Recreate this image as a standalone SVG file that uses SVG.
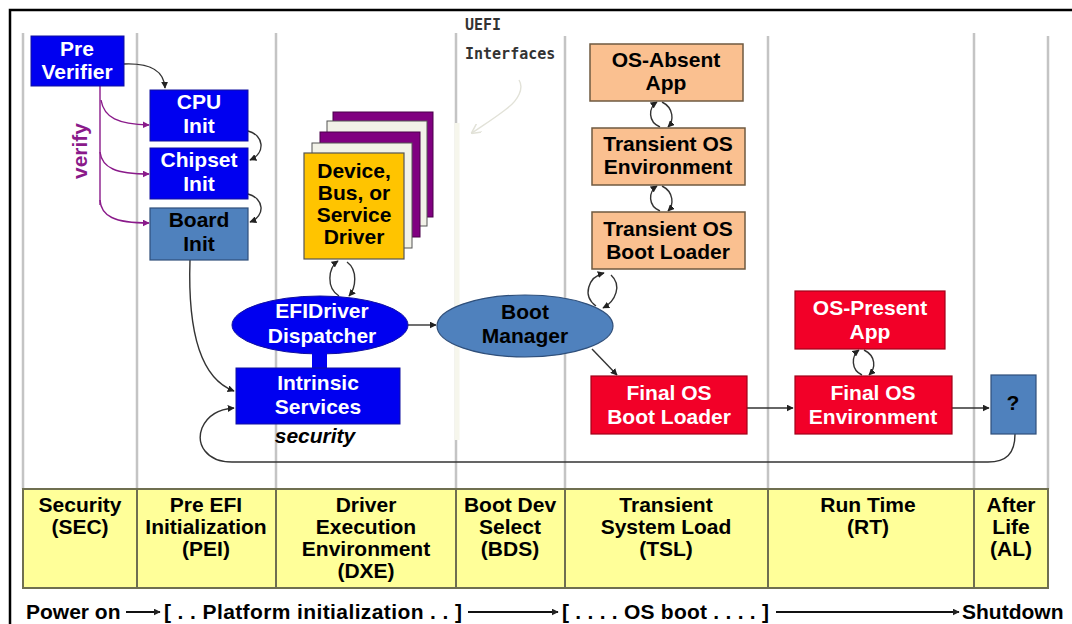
<svg xmlns="http://www.w3.org/2000/svg" width="1072" height="624" viewBox="0 0 1072 624">
<defs>
<style>
.t{font-family:"Liberation Sans",Arial,sans-serif;font-weight:bold;font-size:21px;text-anchor:middle}
.w{fill:#ffffff}
.k{fill:#000000}
.blue{fill:#0000f0;stroke:#1010a0;stroke-width:1}
.steel{fill:#4f81bd;stroke:#2f4f7a;stroke-width:1.2}
.peach{fill:#fac090;stroke:#6f5a40;stroke-width:1.5}
.red{fill:#f20028;stroke:#a00018;stroke-width:1.2}
.lane{stroke:#c4c4c4;stroke-width:2.5}
.div{stroke:#6f6f50;stroke-width:2}
.c{fill:none;stroke:#333;stroke-width:1.4}
.p{fill:none;stroke:#8a1a8a;stroke-width:1.4}
.u{font-family:"Comic Sans MS","DejaVu Sans Mono",monospace;font-size:15px;font-weight:bold;fill:#333}
</style>
<marker id="ah" viewBox="0 0 10 10" refX="9" refY="5" markerWidth="7" markerHeight="7" orient="auto-start-reverse" markerUnits="userSpaceOnUse"><path d="M0,0 L10,5 L0,10 z" fill="#222"/></marker>
<marker id="ap" viewBox="0 0 10 10" refX="9" refY="5" markerWidth="7" markerHeight="7" orient="auto" markerUnits="userSpaceOnUse"><path d="M0,0 L10,5 L0,10 z" fill="#8a1a8a"/></marker>
<marker id="ag" viewBox="0 0 10 10" refX="9" refY="5" markerWidth="10" markerHeight="10" orient="auto" markerUnits="userSpaceOnUse"><path d="M0,0 L10,5 L0,10" fill="none" stroke="#e2e2d8" stroke-width="1.5"/></marker>
</defs>
<rect width="1072" height="624" fill="#ffffff"/>
<!-- frame -->
<path d="M10,624 V10 H1072" fill="none" stroke="#000" stroke-width="2.5"/>
<!-- lanes -->
<g id="lanes">
<line class="lane" x1="23" y1="33" x2="23" y2="489"/>
<line class="lane" x1="137" y1="33" x2="137" y2="489"/>
<line class="lane" x1="276" y1="33" x2="276" y2="489"/>
<line class="lane" x1="456" y1="33" x2="456" y2="489"/>
<line x1="457" y1="123" x2="457" y2="440" stroke="#f6f6ec" stroke-width="5"/>
<line class="lane" x1="565" y1="36" x2="565" y2="489"/>
<line class="lane" x1="768" y1="36" x2="768" y2="489"/>
<line class="lane" x1="974" y1="33" x2="974" y2="489"/>
<line class="lane" x1="1048" y1="36" x2="1048" y2="489"/>
</g>
<!-- phase band -->
<g id="phases">
<rect x="23" y="489" width="1025" height="99" fill="#ffff99" stroke="#6f6f50" stroke-width="2"/>
<line class="div" x1="137" y1="489" x2="137" y2="588"/>
<line class="div" x1="276" y1="489" x2="276" y2="588"/>
<line class="div" x1="456" y1="489" x2="456" y2="588"/>
<line class="div" x1="565" y1="489" x2="565" y2="588"/>
<line class="div" x1="768" y1="489" x2="768" y2="588"/>
<line class="div" x1="974" y1="489" x2="974" y2="588"/>
<text class="t k" x="80" y="512">Security<tspan x="80" dy="22">(SEC)</tspan></text>
<text class="t k" x="206" y="512">Pre EFI<tspan x="206" dy="22">Initialization</tspan><tspan x="206" dy="22">(PEI)</tspan></text>
<text class="t k" x="366" y="512">Driver<tspan x="366" dy="22">Execution</tspan><tspan x="366" dy="22">Environment</tspan><tspan x="366" dy="22">(DXE)</tspan></text>
<text class="t k" x="510" y="512">Boot Dev<tspan x="510" dy="22">Select</tspan><tspan x="510" dy="22">(BDS)</tspan></text>
<text class="t k" x="666" y="512">Transient<tspan x="666" dy="22">System Load</tspan><tspan x="666" dy="22">(TSL)</tspan></text>
<text class="t k" x="868" y="512">Run Time<tspan x="868" dy="22">(RT)</tspan></text>
<text class="t k" x="1011" y="512">After<tspan x="1011" dy="22">Life</tspan><tspan x="1011" dy="22">(AL)</tspan></text>
</g>
<!-- bottom timeline -->
<g id="timeline">
<text class="t k" x="26" y="619" style="text-anchor:start">Power on</text>
<text class="t k" x="164" y="619" style="text-anchor:start" textLength="298" lengthAdjust="spacing">[ . . Platform initialization . . ]</text>
<text class="t k" x="562" y="619" style="text-anchor:start" textLength="207" lengthAdjust="spacing">[ . . . . OS boot . . . . ]</text>
<text class="t k" x="962" y="619" style="text-anchor:start">Shutdown</text>
<line x1="126" y1="612" x2="160" y2="612" stroke="#111" stroke-width="2" marker-end="url(#ah)"/>
<line x1="468" y1="612" x2="558" y2="612" stroke="#111" stroke-width="2" marker-end="url(#ah)"/>
<line x1="776" y1="612" x2="959" y2="612" stroke="#111" stroke-width="2" marker-end="url(#ah)"/>
</g>
<!-- UEFI label -->
<g id="uefi">
<text class="u" x="465" y="30">UEFI</text>
<text class="u" x="465" y="59">Interfaces</text>
</g>
<!-- connectors -->
<g id="connectors">
<path d="M 519 80 C 524 88, 519 100, 505 110 C 492 120, 482 126, 472 133" fill="none" stroke="#e2e2d8" stroke-width="1.4" marker-end="url(#ag)"/>
<path class="c" d="M 124 64 C 150 63, 164 70, 165 88" marker-end="url(#ah)"/>
<path class="c" d="M 248 131 C 264 135, 266 153, 250 160" marker-end="url(#ah)"/>
<path class="c" d="M 248 194 C 264 198, 266 216, 250 222" marker-end="url(#ah)"/>
<path class="p" d="M 100 86 V 205"/>
<path class="p" d="M 101 100 C 104 118, 118 124, 149 125" marker-end="url(#ap)"/>
<path class="p" d="M 100 152 C 102 168, 116 174, 149 174" marker-end="url(#ap)"/>
<path class="p" d="M 100 200 C 101 216, 114 223, 149 223" marker-end="url(#ap)"/>
<path class="c" d="M 190 260 C 188 320, 196 377, 234 391" marker-end="url(#ah)"/>
<path class="c" d="M 339 296 C 326 288, 328 268, 338 261" marker-end="url(#ah)"/>
<path class="c" d="M 347 262 C 358 270, 356 288, 349 296" marker-end="url(#ah)"/>
<line class="c" x1="408" y1="325" x2="436" y2="325" marker-end="url(#ah)"/>
<path class="c" d="M 596 306 C 582 296, 588 277, 604 273" marker-end="url(#ah)"/>
<path class="c" d="M 611 275 C 622 285, 616 301, 603 308" marker-end="url(#ah)"/>
<line class="c" x1="592" y1="349" x2="617" y2="375" marker-end="url(#ah)"/>
<path class="c" d="M 660 127 C 648 122, 648 108, 657 102" marker-end="url(#ah)"/>
<path class="c" d="M 662 102 C 674 108, 674 121, 668 127" marker-end="url(#ah)"/>
<path class="c" d="M 660 211 C 648 206, 648 192, 657 186" marker-end="url(#ah)"/>
<path class="c" d="M 662 186 C 674 192, 674 205, 668 211" marker-end="url(#ah)"/>
<path class="c" d="M 862 375 C 851 370, 851 356, 859 350" marker-end="url(#ah)"/>
<path class="c" d="M 864 350 C 876 356, 876 368, 869 375" marker-end="url(#ah)"/>
<line class="c" x1="747" y1="408" x2="793" y2="408" marker-end="url(#ah)"/>
<line class="c" x1="952" y1="408" x2="989" y2="408" marker-end="url(#ah)"/>
<path class="c" d="M 1015 434 C 1015 454, 1006 462, 988 462 H 232 C 206 462, 196 444, 202 428 C 208 414, 220 409, 234 408" marker-end="url(#ah)"/>
</g>
<!-- SEC / PEI nodes -->
<g id="pre-verifier">
<rect class="blue" x="31" y="36" width="93" height="50"/>
<text class="t w" x="77" y="56">Pre<tspan x="77" dy="23">Verifier</tspan></text>
</g>
<g id="verify-label">
<text class="t" x="0" y="0" fill="#8a1a8a" font-size="20" transform="translate(87,151) rotate(-90)">verify</text>
</g>
<g id="cpu-init">
<rect class="blue" x="150" y="90" width="98" height="51"/>
<text class="t w" x="199" y="109">CPU<tspan x="199" dy="24">Init</tspan></text>
</g>
<g id="chipset-init">
<rect class="blue" x="150" y="148" width="98" height="51"/>
<text class="t w" x="199" y="167">Chipset<tspan x="199" dy="24">Init</tspan></text>
</g>
<g id="board-init">
<rect class="steel" x="150" y="208" width="98" height="52"/>
<text class="t k" x="199" y="227">Board<tspan x="199" dy="24">Init</tspan></text>
</g>
<!-- DXE -->
<g id="driver">
<rect x="333" y="112" width="100" height="105" fill="#800080" stroke="#4a004a" stroke-width="1"/>
<rect x="327" y="121" width="100" height="105" fill="#f2f2e8" stroke="#555" stroke-width="1"/>
<rect x="320" y="132" width="100" height="105" fill="#800080" stroke="#4a004a" stroke-width="1"/>
<rect x="312" y="143" width="100" height="105" fill="#f2f2e8" stroke="#555" stroke-width="1"/>
<rect x="304" y="153" width="100" height="106" fill="#ffc400" stroke="#555" stroke-width="1.2"/>
<text class="t k" x="354" y="178">Device,<tspan x="354" dy="22">Bus, or</tspan><tspan x="354" dy="22">Service</tspan><tspan x="354" dy="22">Driver</tspan></text>
</g>
<g id="dispatcher">
<ellipse cx="320" cy="325" rx="88" ry="29" fill="#0000f0" stroke="#1010a0" stroke-width="1"/>
<text class="t w" x="322" y="318">EFIDriver<tspan x="322" dy="25">Dispatcher</tspan></text>
</g>
<g id="intrinsic">
<rect x="312" y="352" width="15" height="18" fill="#0000f0"/>
<rect class="blue" x="236" y="368" width="164" height="56"/>
<text class="t w" x="318" y="390" font-size="22">Intrinsic<tspan x="318" dy="24">Services</tspan></text>
<text class="t k" x="315" y="443" font-style="italic" font-size="20">security</text>
</g>
<!-- BDS -->
<g id="boot-manager">
<ellipse cx="525" cy="326" rx="88" ry="31" fill="#4f81bd" stroke="#2f4f7a" stroke-width="1.2"/>
<text class="t k" x="525" y="319" font-size="22">Boot<tspan x="525" dy="24">Manager</tspan></text>
</g>
<!-- TSL -->
<g id="os-absent-app">
<rect class="peach" x="590" y="44" width="153" height="57"/>
<text class="t k" x="666" y="67">OS-Absent<tspan x="666" dy="23">App</tspan></text>
</g>
<g id="transient-env">
<rect class="peach" x="592" y="128" width="153" height="57"/>
<text class="t k" x="668" y="151">Transient OS<tspan x="668" dy="23">Environment</tspan></text>
</g>
<g id="transient-loader">
<rect class="peach" x="592" y="212" width="153" height="57"/>
<text class="t k" x="668" y="236">Transient OS<tspan x="668" dy="23">Boot Loader</tspan></text>
</g>
<g id="final-loader">
<rect class="red" x="591" y="376" width="156" height="58"/>
<text class="t w" x="669" y="400">Final OS<tspan x="669" dy="24">Boot Loader</tspan></text>
</g>
<!-- RT -->
<g id="os-present-app">
<rect class="red" x="795" y="291" width="150" height="58"/>
<text class="t w" x="870" y="315">OS-Present<tspan x="870" dy="24">App</tspan></text>
</g>
<g id="final-env">
<rect class="red" x="795" y="376" width="157" height="58"/>
<text class="t w" x="873" y="400">Final OS<tspan x="873" dy="24">Environment</tspan></text>
</g>
<!-- AL -->
<g id="afterlife">
<rect class="steel" x="991" y="375" width="45" height="59"/>
<text class="t k" x="1013" y="410" font-size="18">?</text>
</g>
</svg>
